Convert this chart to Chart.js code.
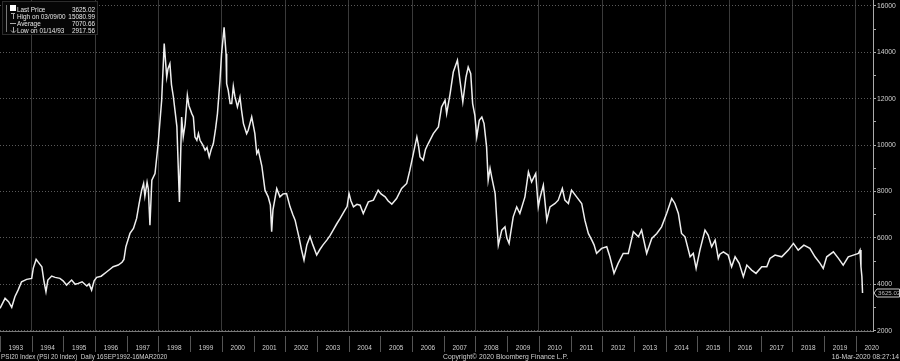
<!DOCTYPE html>
<html>
<head>
<meta charset="utf-8">
<script src="https://cdn.jsdelivr.net/npm/chart.js@4.4.0/dist/chart.umd.min.js"></script>
<style>
  html, body { margin: 0; padding: 0; background: #000; }
  #wrap { width: 900px; height: 361px; position: relative; }
</style>
</head>
<body>
<div id="wrap"><canvas id="psiChart"></canvas></div>
<script>
// PSI20 daily close (decimal years)
const years = [
  1993.00,1993.16,1993.27,1993.37,1993.47,1993.57,1993.68,1993.84,1994.00,1994.05,
  1994.14,1994.23,1994.32,1994.39,1994.45,1994.51,1994.63,1994.74,1994.89,1994.99,
  1995.10,1995.26,1995.37,1995.47,1995.59,1995.74,1995.81,1995.89,1995.97,1996.05,
  1996.19,1996.37,1996.47,1996.57,1996.73,1996.85,1996.91,1996.97,1997.10,1997.21,
  1997.31,1997.39,1997.47,1997.53,1997.57,1997.64,1997.68,1997.73,1997.79,1997.89,
  1997.99,1998.10,1998.18,1998.26,1998.30,1998.36,1998.41,1998.47,1998.52,1998.58,
  1998.66,1998.73,1998.78,1998.84,1998.91,1998.96,1999.05,1999.10,1999.15,1999.21,
  1999.26,1999.31,1999.40,1999.47,1999.53,1999.60,1999.66,1999.73,1999.80,1999.86,
  1999.94,1999.99,2000.07,2000.13,2000.15,2000.20,2000.26,2000.31,2000.36,2000.41,
  2000.49,2000.57,2000.62,2000.68,2000.78,2000.83,2000.94,2001.04,2001.10,2001.15,
  2001.26,2001.36,2001.46,2001.53,2001.57,2001.61,2001.73,2001.83,2001.93,2002.04,
  2002.15,2002.24,2002.31,2002.37,2002.44,2002.51,2002.59,2002.68,2002.78,2002.87,
  2002.99,2003.09,2003.19,2003.31,2003.41,2003.51,2003.62,2003.73,2003.88,2003.95,
  2004.01,2004.07,2004.15,2004.26,2004.36,2004.46,2004.62,2004.78,2004.93,2005.02,
  2005.15,2005.24,2005.36,2005.51,2005.67,2005.83,2005.93,2006.04,2006.15,2006.20,
  2006.25,2006.35,2006.42,2006.51,2006.67,2006.83,2006.93,2007.04,2007.09,2007.20,
  2007.30,2007.43,2007.51,2007.60,2007.70,2007.77,2007.85,2007.91,2007.98,2008.04,
  2008.12,2008.20,2008.27,2008.35,2008.40,2008.46,2008.51,2008.62,2008.69,2008.72,
  2008.83,2008.93,2008.99,2009.06,2009.12,2009.19,2009.30,2009.40,2009.56,2009.67,
  2009.77,2009.90,2009.98,2010.03,2010.14,2010.25,2010.35,2010.51,2010.61,2010.74,
  2010.82,2010.93,2011.03,2011.19,2011.35,2011.45,2011.56,2011.67,2011.74,2011.82,
  2011.98,2012.14,2012.24,2012.37,2012.50,2012.66,2012.82,2012.98,2013.14,2013.24,
  2013.40,2013.56,2013.72,2013.87,2014.03,2014.19,2014.29,2014.40,2014.50,2014.61,
  2014.77,2014.87,2014.96,2015.08,2015.24,2015.34,2015.45,2015.56,2015.66,2015.71,
  2015.82,2015.97,2016.08,2016.19,2016.32,2016.45,2016.56,2016.71,2016.85,2017.03,
  2017.19,2017.29,2017.45,2017.66,2017.87,2018.03,2018.18,2018.36,2018.55,2018.71,
  2018.87,2018.97,2019.08,2019.29,2019.45,2019.60,2019.76,2019.92,2020.08,2020.13,
  2020.16,2020.19,2020.21
];
const prices = [
  2965,3395,3250,3008,3464,3750,4110,4213,4256,4700,
  5074,4915,4756,4100,3679,4183,4355,4299,4256,4150,
  3968,4183,4000,4041,4110,3925,4020,3752,4150,4299,
  4350,4541,4650,4756,4829,4950,5074,5617,6194,6409,
  6840,7486,8059,8347,7800,8400,8100,6551,8489,8777,
  10069,11934,14376,12937,13300,13514,12600,12076,11503,10800,
  7555,11215,10354,10900,12149,11700,11360,11215,10354,10211,
  10500,10211,10000,9781,9900,9493,9800,10069,10700,11360,
  12795,13945,15081,13945,12653,12364,11792,11792,12535,12100,
  11646,12076,11500,10928,10498,10641,11215,10498,9638,9781,
  9100,8059,7770,7412,6263,7200,8131,7770,7900,7916,
  7340,7000,6767,6400,5979,5500,5044,5700,6065,5700,
  5260,5500,5700,5906,6100,6336,6600,6840,7197,7350,
  7916,7600,7340,7450,7412,7055,7555,7628,8059,7900,
  7770,7600,7455,7701,8131,8347,8920,9638,10354,10000,
  9493,9350,9800,10069,10498,10784,11646,11934,11360,12222,
  13152,13657,12795,11861,12937,13368,13084,11792,11288,10354,
  11073,11215,10928,9923,8489,9000,8631,7916,6336,5690,
  6336,6478,6000,5763,6300,6908,7340,7055,7770,8847,
  8416,8777,7340,7700,8274,6767,7340,7486,7628,8131,
  7628,7486,8059,7770,7486,6767,6194,5906,5700,5333,
  5548,5617,5186,4472,4902,5333,5333,6263,6048,6336,
  5333,5979,6194,6478,7055,7701,7486,7055,6194,6048,
  5186,5333,4687,5475,6336,6121,5617,5906,5118,5300,
  5402,5260,4756,5186,4902,4325,4829,4614,4472,4756,
  4756,5118,5260,5186,5475,5763,5475,5690,5548,5186,
  4902,4687,5186,5402,5118,4829,5186,5260,5333,5475,
  4756,4325,3625.02
];
const yTicks = [2000,3000,4000,5000,6000,7000,8000,9000,10000,11000,12000,13000,14000,15000,16000];
const xTicks = [1993,1994,1995,1996,1997,1998,1999,2000,2001,2002,2003,2004,2005,2006,
                2007,2008,2009,2010,2011,2012,2013,2014,2015,2016,2017,2018,2019,2020];
const legendRows = [
  ['Last Price', '3625.02'],
  ['High on 03/09/00', '15080.99'],
  ['Average', '7070.66'],
  ['Low on 01/14/93', '2917.56']
];
const lastPrice = 3625.02;
const footerLeft = 'PSI20 Index (PSI 20 Index)  Daily 16SEP1992-16MAR2020';
const footerMid = 'Copyright\u00A9 2020 Bloomberg Finance L.P.';
const footerRight = '16-Mar-2020 08:27:14';

const FONT = '"Liberation Sans", Arial, sans-serif';
const X_MIN = 1993, X_MAX = 2020.54;
const halfYear = 873 / (X_MAX - X_MIN) / 2;

const bgPlugin = {
  id: 'bg',
  beforeDraw(chart) {
    const c = chart.ctx;
    c.save();
    c.fillStyle = '#000';
    c.fillRect(0, 0, chart.width, chart.height);
    c.restore();
  }
};

const decorPlugin = {
  id: 'decor',
  afterDraw(chart) {
    const c = chart.ctx;
    const xs = chart.scales.x, ys = chart.scales.y;
    c.save();

    // year dividers under the axis
    c.strokeStyle = '#555';
    c.lineWidth = 1;
    xTicks.forEach(v => {
      const px = Math.round(xs.getPixelForValue(v)) + 0.5;
      c.beginPath();
      c.moveTo(px, 336);
      c.lineTo(px, 352);
      c.stroke();
    });

    // legend box
    c.fillStyle = '#060606';
    c.fillRect(2, 1, 96, 34);
    c.strokeStyle = '#2c2c2c';
    c.strokeRect(2.5, 1.5, 95, 33);
    c.strokeStyle = '#777';
    c.beginPath();
    c.moveTo(6.5, 5); c.lineTo(6.5, 32);
    c.stroke();
    c.fillStyle = '#fff';
    c.fillRect(10, 5, 6, 6);
    c.strokeStyle = '#aaa';
    c.beginPath();
    c.moveTo(11, 13.5); c.lineTo(15, 13.5);
    c.moveTo(13.5, 13.5); c.lineTo(13.5, 19);
    c.moveTo(10, 23.5); c.lineTo(16, 23.5);
    c.moveTo(13.5, 27); c.lineTo(13.5, 32);
    c.moveTo(11, 30.5); c.lineTo(13.5, 33); c.lineTo(16, 30.5);
    c.stroke();
    c.font = '6.4px ' + FONT;
    c.textBaseline = 'alphabetic';
    legendRows.forEach((r, i) => {
      const y = 11.5 + i * 7;
      c.fillStyle = '#e6e6e6';
      c.textAlign = 'left';
      c.fillText(r[0], 17, y);
      c.textAlign = 'right';
      c.fillText(r[1], 95, y);
    });

    // last price tag on the axis
    const ly = ys.getPixelForValue(lastPrice);
    c.fillStyle = '#000';
    c.strokeStyle = '#ccc';
    c.beginPath();
    c.moveTo(874, ly);
    c.lineTo(877, ly - 4);
    c.lineTo(899.5, ly - 4);
    c.lineTo(899.5, ly + 4);
    c.lineTo(877, ly + 4);
    c.closePath();
    c.fill();
    c.stroke();
    c.fillStyle = '#bbb';
    c.font = '6.2px ' + FONT;
    c.textAlign = 'left';
    c.textBaseline = 'middle';
    c.fillText(lastPrice.toFixed(2), 878, ly + 0.5);

    // footer
    c.fillStyle = '#cfcfcf';
    c.font = '6.3px ' + FONT;
    c.textBaseline = 'alphabetic';
    c.textAlign = 'left';
    c.fillText(footerLeft, 1, 359);
    c.font = '6.8px ' + FONT;
    c.fillText(footerMid, 443, 359);
    c.textAlign = 'right';
    c.fillText(footerRight, 899, 359);
    c.restore();
  }
};

const ctx = document.getElementById('psiChart').getContext('2d');
new Chart(ctx, {
  type: 'line',
  data: {
    datasets: [{
      data: years.map((x, i) => ({ x: x, y: prices[i] })),
      borderColor: '#eeeeee',
      borderWidth: 1.5,
      pointRadius: 0,
      tension: 0,
      fill: false
    }]
  },
  options: {
    responsive: true,
    maintainAspectRatio: false,
    animation: false,
    layout: { padding: 0 },
    plugins: { legend: { display: false }, tooltip: { enabled: false } },
    scales: {
      x: {
        type: 'linear',
        position: 'bottom',
        min: X_MIN,
        max: X_MAX,
        afterBuildTicks: s => { s.ticks = xTicks.map(v => ({ value: v })); },
        afterFit: s => { s.height = 30; s.paddingLeft = 0; s.paddingRight = 0; },
        grid: {
          color: c => (c.tick && c.tick.value % 2 === 0) ? '#3a3a3a' : 'rgba(0,0,0,0)',
          drawTicks: false
        },
        border: { display: true, color: '#777' },
        ticks: {
          color: '#d0d0d0',
          font: { size: 6.5, family: FONT },
          padding: 13,
          labelOffset: halfYear,
          maxRotation: 0,
          autoSkip: false,
          callback: v => String(v)
        }
      },
      y: {
        position: 'right',
        min: 1987,
        max: 16258,
        afterBuildTicks: s => { s.ticks = yTicks.map(v => ({ value: v })); },
        afterFit: s => { s.width = 27; s.paddingTop = 0; s.paddingBottom = 0; },
        grid: {
          color: c => (c.tick && c.tick.value % 2000 === 0) ? '#5a5a5a' : 'rgba(0,0,0,0)',
          tickColor: '#aaa',
          tickLength: 3
        },
        border: { display: true, color: '#aaa', dash: [1, 2] },
        ticks: {
          color: '#d0d0d0',
          font: { size: 6.8, family: FONT },
          padding: 1,
          callback: v => (v % 2000 === 0 ? String(v) : '')
        }
      }
    }
  },
  plugins: [bgPlugin, decorPlugin]
});
</script>
</body>
</html>
